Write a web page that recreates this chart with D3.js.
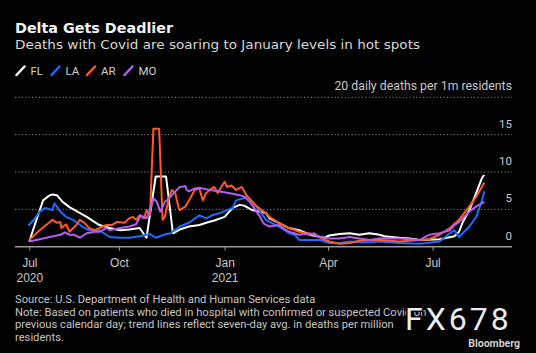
<!DOCTYPE html>
<html>
<head>
<meta charset="utf-8">
<script src="https://cdn.jsdelivr.net/npm/d3@7"></script>
<style>
  html, body { margin: 0; padding: 0; background: #000; }
  svg { display: block; font-family: Roboto, "Noto Sans", sans-serif; }
</style>
</head>
<body>
<svg id="chart" width="536" height="353"></svg>
<script>
const width = 536, height = 353;

// series labels + colours
const seriesNames = ["FL", "LA", "AR", "MO"];
const seriesColors = ["#ffffff", "#1a6dff", "#ff5a24", "#b35ef2"];

// axis ticks
const yTicks = [0, 5, 10, 15, 20];
const xTickDates = ["2020-07-15", "2020-10-01", "2021-01-01", "2021-04-01", "2021-07-01"];
const xTickMonths = ["Jul", "Oct", "Jan", "Apr", "Jul"];
const xTickYears = ["2020", "", "2021", "", ""];

// daily deaths per 1m residents (7-day avg)
const flData = [
  ["2020-07-15", 0.7], ["2020-07-21", 3.5], ["2020-07-27", 6.2], ["2020-08-01", 6.8], ["2020-08-04", 7.0],
  ["2020-08-08", 6.9], ["2020-08-13", 6.0], ["2020-08-19", 5.3], ["2020-08-27", 4.6], ["2020-09-03", 4.0],
  ["2020-09-14", 2.9], ["2020-09-23", 2.5], ["2020-10-02", 2.2], ["2020-10-10", 2.3], ["2020-10-19", 2.5],
  ["2020-10-25", 1.2], ["2020-11-02", 9.4], ["2020-11-11", 9.4], ["2020-11-17", 1.8], ["2020-11-23", 2.3],
  ["2020-12-01", 2.7], ["2020-12-10", 2.9], ["2020-12-16", 3.2], ["2020-12-23", 3.5], ["2021-01-01", 4.0],
  ["2021-01-08", 5.2], ["2021-01-14", 5.6], ["2021-01-18", 5.5], ["2021-01-25", 4.9], ["2021-02-06", 4.5],
  ["2021-02-09", 3.8], ["2021-02-17", 3.2], ["2021-02-26", 2.5], ["2021-03-07", 2.2], ["2021-03-16", 1.6],
  ["2021-03-25", 1.3], ["2021-03-29", 1.2], ["2021-04-02", 1.5], ["2021-04-11", 1.7], ["2021-04-20", 1.8],
  ["2021-04-28", 1.6], ["2021-05-07", 1.8], ["2021-05-16", 1.6], ["2021-05-20", 1.4], ["2021-06-02", 1.2],
  ["2021-06-11", 1.1], ["2021-06-20", 0.9], ["2021-07-07", 1.0], ["2021-07-20", 1.4], ["2021-07-24", 2.0],
  ["2021-07-27", 3.2], ["2021-08-02", 4.9], ["2021-08-08", 7.2], ["2021-08-13", 9.2], ["2021-08-15", 9.6]
];
const laData = [
  ["2020-07-14", 2.8], ["2020-07-19", 3.6], ["2020-07-24", 4.7], ["2020-07-29", 5.2], ["2020-08-04", 4.9],
  ["2020-08-06", 5.8], ["2020-08-11", 4.7], ["2020-08-16", 4.0], ["2020-08-22", 3.6], ["2020-08-30", 2.7],
  ["2020-09-05", 2.2], ["2020-09-14", 2.2], ["2020-09-17", 1.9], ["2020-09-23", 1.3], ["2020-10-02", 1.2],
  ["2020-10-10", 1.2], ["2020-10-19", 1.4], ["2020-10-28", 1.7], ["2020-11-02", 1.2], ["2020-11-09", 1.6],
  ["2020-11-15", 1.8], ["2020-11-23", 2.7], ["2020-12-01", 3.2], ["2020-12-10", 4.2], ["2020-12-16", 3.8],
  ["2020-12-21", 4.2], ["2020-12-28", 4.5], ["2021-01-08", 5.2], ["2021-01-11", 6.2], ["2021-01-18", 6.5],
  ["2021-01-21", 6.7], ["2021-01-25", 6.0], ["2021-01-31", 4.9], ["2021-02-06", 3.6], ["2021-02-17", 2.7],
  ["2021-02-26", 1.8], ["2021-03-03", 1.6], ["2021-03-07", 0.9], ["2021-03-16", 0.9], ["2021-03-25", 0.9],
  ["2021-04-02", 0.5], ["2021-04-11", 0.5], ["2021-04-20", 0.7], ["2021-04-28", 0.6], ["2021-05-07", 0.6],
  ["2021-05-16", 0.7], ["2021-06-02", 0.5], ["2021-06-20", 0.4], ["2021-07-07", 0.7], ["2021-07-16", 1.8],
  ["2021-07-20", 2.2], ["2021-07-24", 1.3], ["2021-08-02", 2.7], ["2021-08-08", 4.0], ["2021-08-13", 6.2],
  ["2021-08-15", 7.4]
];
const arData = [
  ["2020-07-15", 0.9], ["2020-07-24", 2.2], ["2020-08-02", 3.3], ["2020-08-04", 3.6], ["2020-08-08", 3.2],
  ["2020-08-11", 3.3], ["2020-08-12", 2.5], ["2020-08-16", 3.0], ["2020-08-19", 2.0], ["2020-08-25", 2.9],
  ["2020-08-28", 3.6], ["2020-09-01", 3.2], ["2020-09-05", 2.5], ["2020-09-10", 2.2], ["2020-09-14", 2.5],
  ["2020-09-20", 2.9], ["2020-09-25", 2.9], ["2020-09-29", 3.3], ["2020-10-06", 3.2], ["2020-10-10", 3.8],
  ["2020-10-13", 4.0], ["2020-10-16", 3.6], ["2020-10-19", 4.2], ["2020-10-23", 3.8], ["2020-10-25", 4.9],
  ["2020-10-28", 4.2], ["2020-10-31", 15.8], ["2020-11-05", 15.8], ["2020-11-08", 3.6], ["2020-11-10", 4.0],
  ["2020-11-13", 6.2], ["2020-11-16", 7.6], ["2020-11-19", 7.2], ["2020-11-22", 5.2], ["2020-11-23", 4.9],
  ["2020-11-28", 5.4], ["2020-12-01", 6.2], ["2020-12-06", 7.6], ["2020-12-10", 7.8], ["2020-12-13", 6.2],
  ["2020-12-16", 7.2], ["2020-12-19", 7.6], ["2020-12-23", 8.0], ["2020-12-26", 7.2], ["2020-12-29", 8.0],
  ["2021-01-01", 8.7], ["2021-01-03", 8.0], ["2021-01-07", 8.2], ["2021-01-11", 7.6], ["2021-01-16", 8.0],
  ["2021-01-20", 6.9], ["2021-01-24", 6.2], ["2021-01-29", 5.4], ["2021-02-02", 4.9], ["2021-02-04", 4.7],
  ["2021-02-09", 4.0], ["2021-02-17", 3.2], ["2021-02-26", 2.5], ["2021-03-07", 2.0], ["2021-03-16", 1.6],
  ["2021-03-20", 1.8], ["2021-03-25", 1.2], ["2021-04-02", 0.7], ["2021-04-11", 0.4], ["2021-04-20", 0.5],
  ["2021-04-28", 0.8], ["2021-05-07", 0.9], ["2021-05-16", 0.9], ["2021-06-02", 0.7], ["2021-06-20", 0.9],
  ["2021-06-28", 1.0], ["2021-07-07", 1.6], ["2021-07-16", 2.5], ["2021-07-24", 3.6], ["2021-08-02", 5.4],
  ["2021-08-08", 6.7], ["2021-08-15", 8.6]
];
const moData = [
  ["2020-07-15", 0.7], ["2020-07-24", 1.0], ["2020-08-02", 1.3], ["2020-08-11", 1.6], ["2020-08-15", 1.9],
  ["2020-08-19", 1.6], ["2020-08-23", 1.6], ["2020-08-28", 1.2], ["2020-09-03", 1.8], ["2020-09-10", 2.0],
  ["2020-09-14", 2.0], ["2020-09-20", 2.5], ["2020-09-23", 2.2], ["2020-10-02", 2.5], ["2020-10-10", 2.7],
  ["2020-10-16", 3.0], ["2020-10-20", 4.2], ["2020-10-25", 3.8], ["2020-10-28", 4.9], ["2020-10-31", 6.5],
  ["2020-11-03", 6.0], ["2020-11-06", 4.7], ["2020-11-10", 6.0], ["2020-11-15", 6.7], ["2020-11-19", 7.4],
  ["2020-11-23", 8.0], ["2020-11-28", 8.1], ["2020-11-29", 7.6], ["2020-12-01", 7.4], ["2020-12-06", 7.8],
  ["2020-12-10", 7.9], ["2020-12-19", 7.6], ["2020-12-28", 7.4], ["2021-01-08", 7.1], ["2021-01-14", 6.9],
  ["2021-01-18", 6.7], ["2021-01-23", 6.0], ["2021-01-27", 5.1], ["2021-01-31", 4.2], ["2021-02-04", 3.1],
  ["2021-02-09", 2.7], ["2021-02-17", 2.9], ["2021-02-26", 2.0], ["2021-03-07", 1.6], ["2021-03-16", 1.8],
  ["2021-03-25", 1.3], ["2021-04-02", 1.1], ["2021-04-11", 1.1], ["2021-04-20", 1.3], ["2021-04-28", 1.1],
  ["2021-05-07", 0.9], ["2021-05-16", 1.1], ["2021-06-02", 1.1], ["2021-06-20", 0.9], ["2021-06-28", 1.6],
  ["2021-07-07", 1.8], ["2021-07-16", 2.2], ["2021-07-20", 2.9], ["2021-07-24", 3.3], ["2021-08-02", 4.7],
  ["2021-08-08", 5.4], ["2021-08-15", 6.0]
];
const allSeries = [flData, laData, arData, moData];

const svg = d3.select("#chart");
svg.append("rect").attr("width", width).attr("height", height).attr("fill", "#000");

const parse = d3.utcParse("%Y-%m-%d");
const plotLeft = 15, plotRight = 512;

const x = d3.scaleUtc()
  .domain([parse("2020-07-15"), parse("2021-07-01")])
  .range([29.3, 432.6]);
const y = d3.scaleLinear().domain([0, 20]).range([246.7, 97.3]);

// titles (wider face, like the original)
svg.append("text").attr("x", 15).attr("y", 32.5)
  .attr("fill", "#f2f2f2").attr("font-size", 14.5).attr("font-weight", "bold")
  .attr("font-family", "'DejaVu Sans', sans-serif")
  .attr("textLength", 158).attr("lengthAdjust", "spacingAndGlyphs")
  .text("Delta Gets Deadlier");
svg.append("text").attr("x", 15).attr("y", 49)
  .attr("fill", "#d9d9d9").attr("font-size", 13)
  .attr("font-family", "'DejaVu Sans', sans-serif")
  .attr("textLength", 405).attr("lengthAdjust", "spacingAndGlyphs")
  .text("Deaths with Covid are soaring to January levels in hot spots");

// legend
const legendX = [15.5, 50.5, 86, 123.5];
const legend = svg.append("g").selectAll("g")
  .data(seriesNames)
  .enter().append("g")
  .attr("transform", (d, i) => "translate(" + legendX[i] + ",0)");
legend.append("line")
  .attr("x1", 1).attr("y1", 75).attr("x2", 9).attr("y2", 66.5)
  .attr("stroke", (d, i) => seriesColors[i])
  .attr("stroke-width", 2.5).attr("stroke-linecap", "round");
legend.append("text")
  .attr("x", 15).attr("y", 75)
  .attr("fill", "#cfcfcf").attr("font-size", 11.5)
  .text(d => d);

// gridlines
svg.append("g").selectAll("line")
  .data(yTicks.filter(d => d > 0))
  .enter().append("line")
  .attr("x1", plotLeft).attr("x2", plotRight)
  .attr("y1", d => y(d)).attr("y2", d => y(d))
  .attr("stroke", "#8a8a8a").attr("stroke-width", 1)
  .attr("stroke-dasharray", "1.2,2.2");

// y labels
svg.append("g").selectAll("text")
  .data(yTicks)
  .enter().append("text")
  .attr("x", plotRight).attr("y", d => y(d) - 7)
  .attr("text-anchor", "end")
  .attr("fill", "#c8c8c8").attr("font-size", d => d === 20 ? 12.3 : 11.5)
  .text(d => d === 20 ? "20 daily deaths per 1m residents" : d);

// x axis
const xAxis = d3.axisBottom(x)
  .tickValues(xTickDates.map(parse))
  .tickSize(4)
  .tickFormat("");
const xg = svg.append("g").attr("transform", "translate(0," + y(0) + ")").call(xAxis);
xg.select(".domain").remove();
xg.selectAll(".tick line").attr("stroke", "#9a9a9a").attr("stroke-width", 1);
xg.append("line")
  .attr("x1", plotLeft).attr("x2", plotRight)
  .attr("stroke", "#9a9a9a").attr("stroke-width", 1.6);
xg.selectAll(".tick").each(function(d, i) {
  const t = d3.select(this).append("text")
    .attr("fill", "#c8c8c8").attr("font-size", 12)
    .attr("text-anchor", "middle");
  t.append("tspan").attr("x", 0).attr("y", 20).text(xTickMonths[i]);
  t.append("tspan").attr("x", 0).attr("y", 35).text(xTickYears[i]);
});

// lines
const line = d3.line()
  .x(d => x(parse(d[0])))
  .y(d => y(d[1]));
svg.append("g").selectAll("path")
  .data(allSeries)
  .enter().append("path")
  .attr("d", line)
  .attr("fill", "none")
  .attr("stroke", (d, i) => seriesColors[i])
  .attr("stroke-width", 2)
  .attr("stroke-linejoin", "round");

// footnotes
const notes = [
  "Source: U.S. Department of Health and Human Services data",
  "Note: Based on patients who died in hospital with confirmed or suspected Covid on",
  "previous calendar day; trend lines reflect seven-day avg. in deaths per million",
  "residents."
];
svg.append("g").selectAll("text")
  .data(notes)
  .enter().append("text")
  .attr("x", 15).attr("y", (d, i) => 303 + i * 12.5)
  .attr("fill", "#c4c4c4").attr("font-size", 11.2)
  .text(d => d);

// watermark + logo
svg.append("text").attr("x", 405).attr("y", 330)
  .attr("fill", "#ececec").attr("font-size", 32)
  .attr("letter-spacing", 3)
  .attr("stroke", "#000").attr("stroke-width", 3).attr("paint-order", "stroke")
  .text("FX678");
svg.append("text").attr("x", 520).attr("y", 347)
  .attr("text-anchor", "end")
  .attr("fill", "#d0d0d0").attr("font-size", 10.5).attr("font-weight", "bold")
  .text("Bloomberg");
</script>
</body>
</html>
